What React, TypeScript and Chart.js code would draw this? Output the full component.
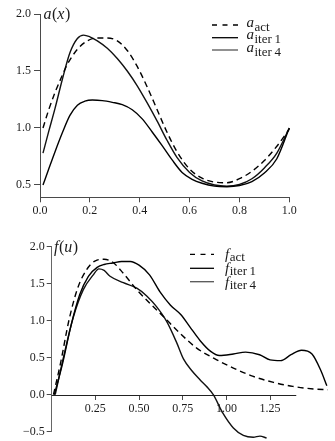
import React, { useEffect, useRef } from 'react';
import { Chart, registerables } from 'chart.js';

Chart.register(...registerables);

// ---------- Top panel: a(x) ----------
const aActX = [0.012, 0.035, 0.06, 0.085, 0.11, 0.15, 0.19, 0.23, 0.27, 0.31, 0.35, 0.39, 0.43, 0.47, 0.51, 0.55, 0.6, 0.65, 0.7, 0.75, 0.8, 0.85, 0.9, 0.95, 1.0];
const aActY = [1.0, 1.16, 1.31, 1.44, 1.56, 1.69, 1.765, 1.79, 1.79, 1.765, 1.68, 1.54, 1.36, 1.16, 0.96, 0.79, 0.64, 0.56, 0.525, 0.52, 0.555, 0.62, 0.715, 0.84, 0.99];

const aIter4X = [0.012, 0.035, 0.06, 0.09, 0.12, 0.15, 0.175, 0.2, 0.23, 0.27, 0.31, 0.35, 0.39, 0.43, 0.47, 0.51, 0.55, 0.6, 0.65, 0.7, 0.75, 0.8, 0.85, 0.9, 0.95, 1.0];
const aIter4Y = [0.78, 0.97, 1.17, 1.43, 1.66, 1.785, 1.815, 1.8, 1.765, 1.7, 1.61, 1.5, 1.37, 1.22, 1.06, 0.89, 0.74, 0.61, 0.535, 0.5, 0.49, 0.505, 0.555, 0.65, 0.78, 1.0];

const aIter1X = [0.012, 0.035, 0.06, 0.09, 0.12, 0.15, 0.18, 0.21, 0.25, 0.29, 0.33, 0.37, 0.41, 0.45, 0.49, 0.53, 0.57, 0.61, 0.65, 0.7, 0.75, 0.8, 0.85, 0.9, 0.95, 1.0];
const aIter1Y = [0.5, 0.64, 0.79, 0.96, 1.11, 1.2, 1.235, 1.245, 1.24, 1.225, 1.205, 1.16, 1.08, 0.965, 0.845, 0.72, 0.61, 0.55, 0.515, 0.49, 0.485, 0.495, 0.53, 0.605, 0.73, 1.0];

const topXTicks = [0, 0.2, 0.4, 0.6, 0.8, 1.0];
const topYTicks = [0.5, 1.0, 1.5, 2.0];
const topTitle: [string, boolean][] = [['a', true], ['(', false], ['x', true], [')', false]];
const topLegendMain = 'a';
const topLegendSubs = ['act', 'iter\u20091', 'iter\u20094'];

// ---------- Bottom panel: f(u) ----------
const fActX = [0.01, 0.05, 0.1, 0.15, 0.2, 0.25, 0.3, 0.35, 0.41, 0.49, 0.56, 0.64, 0.73, 0.83, 0.93, 1.04, 1.15, 1.27, 1.38, 1.5, 1.58];
const fActY = [0.0, 0.42, 1.02, 1.45, 1.69, 1.81, 1.83, 1.79, 1.64, 1.41, 1.24, 1.055, 0.84, 0.63, 0.49, 0.36, 0.25, 0.166, 0.112, 0.077, 0.067];

const fIter1X = [0.015, 0.06, 0.11, 0.16, 0.21, 0.26, 0.3, 0.35, 0.4, 0.45, 0.5, 0.56, 0.62, 0.68, 0.74, 0.79, 0.85, 0.91, 0.96, 1.04, 1.11, 1.19, 1.25, 1.31, 1.37, 1.43, 1.49, 1.54, 1.575];
const fIter1Y = [0.0, 0.4, 0.93, 1.35, 1.6, 1.72, 1.76, 1.78, 1.8, 1.8, 1.75, 1.62, 1.39, 1.21, 1.08, 0.92, 0.73, 0.585, 0.53, 0.55, 0.575, 0.54, 0.47, 0.46, 0.54, 0.6, 0.55, 0.33, 0.12];

const fIter4X = [0.02, 0.067, 0.124, 0.181, 0.238, 0.27, 0.3, 0.334, 0.41, 0.487, 0.544, 0.6, 0.658, 0.716, 0.755, 0.8, 0.85, 0.887, 0.925, 0.98, 1.04, 1.097, 1.154, 1.192, 1.23];
const fIter4Y = [0.0, 0.5, 1.05, 1.42, 1.62, 1.7, 1.68, 1.6, 1.515, 1.44, 1.335, 1.19, 0.99, 0.7, 0.48, 0.33, 0.2, 0.11, 0.0, -0.25, -0.45, -0.55, -0.575, -0.56, -0.585];

const botXTicks = [0.25, 0.5, 0.75, 1.0, 1.25];
const botYTicks = [-0.5, 0, 0.5, 1.0, 1.5, 2.0];
const botXAxisStart = 0;
const botXAxisEnd = 1.4;
const botTitle: [string, boolean][] = [['f', true], ['(', false], ['u', true], [')', false]];
const botLegendMain = 'f';
const botLegendSubs = ['act', 'iter\u20091', 'iter\u20094'];

// ---------- styling ----------
const SERIF = '"Liberation Serif", "Times New Roman", serif';
const INK = '#1c1c1c';
const AXIS = '#4a4a4a';
const C_ACT = '#000000';
const C_IT1 = '#000000';
const C_IT4 = '#111111';
const DASH_PLOT = [6, 4];
const DASH_LEG = [5, 5.5];

const toPts = (xs: number[], ys: number[]) => xs.map((x, i) => ({ x, y: ys[i] }));

const lineDs = (label: string, xs: number[], ys: number[], color: string, dash: number[] | null) => ({
  label,
  data: toPts(xs, ys),
  borderColor: color,
  backgroundColor: color,
  borderWidth: 1.4,
  borderDash: dash || [],
  pointRadius: 0,
  pointHoverRadius: 0,
  fill: false,
  cubicInterpolationMode: 'monotone',
  clip: false,
});

type OverlayCfg = {
  title: [string, boolean][];
  titleX: number;
  titleY: number;
  main: string;
  subs: string[];
  colors: string[];
  dashed: boolean[];
  lineX0: number;
  lineX1: number;
  rowsY: number[];
  textX: number;
  mainDy: number;
  subDy: number;
  zeroAxis?: { from: number; to: number; color: string };
};

const makeOverlay = (cfg: OverlayCfg) => ({
  id: 'overlay',
  beforeDatasetsDraw(chart: any) {
    if (!cfg.zeroAxis) return;
    const ctx = chart.ctx as CanvasRenderingContext2D;
    const xs = chart.scales.x;
    const ys = chart.scales.y;
    const y0 = Math.round(ys.getPixelForValue(0)) + 0.5;
    ctx.save();
    ctx.strokeStyle = cfg.zeroAxis.color;
    ctx.lineWidth = 1;
    ctx.beginPath();
    ctx.moveTo(xs.getPixelForValue(cfg.zeroAxis.from), y0);
    ctx.lineTo(xs.getPixelForValue(cfg.zeroAxis.to), y0);
    ctx.stroke();
    ctx.restore();
  },
  afterDraw(chart: any) {
    const ctx = chart.ctx as CanvasRenderingContext2D;
    ctx.save();
    ctx.fillStyle = INK;
    ctx.textAlign = 'left';
    ctx.textBaseline = 'alphabetic';
    let x = cfg.titleX;
    for (const [t, it] of cfg.title) {
      ctx.font = `${it ? 'italic ' : ''}16px ${SERIF}`;
      ctx.fillText(t, x, cfg.titleY);
      x += ctx.measureText(t).width + (it ? 0.5 : 0);
    }
    cfg.subs.forEach((sub, i) => {
      const y = cfg.rowsY[i];
      ctx.strokeStyle = cfg.colors[i];
      ctx.lineWidth = 1.3;
      ctx.setLineDash(cfg.dashed[i] ? DASH_LEG : []);
      ctx.beginPath();
      ctx.moveTo(cfg.lineX0, y);
      ctx.lineTo(cfg.lineX1, y);
      ctx.stroke();
      ctx.setLineDash([]);
      ctx.font = `italic 15px ${SERIF}`;
      ctx.fillText(cfg.main, cfg.textX, y + cfg.mainDy);
      const w = ctx.measureText(cfg.main).width;
      ctx.font = `13px ${SERIF}`;
      ctx.fillText(sub, cfg.textX + w + 0.5, y + cfg.subDy);
    });
    ctx.restore();
  },
});

const axisCommon = (tickLen: number, pad: number) => ({
  grid: { display: true, drawOnChartArea: false, drawTicks: true, tickLength: tickLen, tickColor: AXIS, tickWidth: 1 },
  border: { display: true, color: AXIS, width: 1 },
  ticks: { font: { family: SERIF, size: 12 }, color: INK, padding: pad, maxRotation: 0, autoSkip: false },
});

const fmtSigned = (v: number, d: number) => (v < 0 ? '\u2212' : '') + Math.abs(v).toFixed(d);

function useChart(ref: React.RefObject<HTMLCanvasElement>, build: () => any) {
  useEffect(() => {
    if (!ref.current) return;
    const chart = new Chart(ref.current, build());
    return () => chart.destroy();
  }, []);
}

export default function App() {
  const topRef = useRef<HTMLCanvasElement>(null);
  const botRef = useRef<HTMLCanvasElement>(null);

  useChart(topRef, () => {
    const xc = axisCommon(5, 1);
    const yc = axisCommon(6, 3);
    return {
      type: 'line',
      data: {
        datasets: [
          lineDs('a_act', aActX, aActY, C_ACT, DASH_PLOT),
          lineDs('a_iter1', aIter1X, aIter1Y, C_IT1, null),
          lineDs('a_iter4', aIter4X, aIter4Y, C_IT4, null),
        ],
      },
      options: {
        animation: false,
        responsive: false,
        maintainAspectRatio: false,
        layout: { padding: { top: 14, right: 45.7, left: 0, bottom: 0 } },
        plugins: { legend: { display: false }, tooltip: { enabled: false }, title: { display: false } },
        scales: {
          x: {
            type: 'linear',
            min: 0,
            max: 1,
            position: 'bottom',
            afterBuildTicks: (s: any) => { s.ticks = topXTicks.map((v) => ({ value: v })); },
            afterFit: (s: any) => { s.height = 22.7; },
            grid: xc.grid,
            border: xc.border,
            ticks: { ...xc.ticks, callback: (v: number) => v.toFixed(1) },
          },
          y: {
            type: 'linear',
            min: 0.392,
            max: 2.0,
            position: 'left',
            afterBuildTicks: (s: any) => { s.ticks = topYTicks.map((v) => ({ value: v })); },
            afterFit: (s: any) => { s.width = 40; },
            grid: yc.grid,
            border: yc.border,
            ticks: { ...yc.ticks, callback: (v: number) => v.toFixed(1) },
          },
        },
      },
      plugins: [
        makeOverlay({
          title: topTitle,
          titleX: 43.5,
          titleY: 18.5,
          main: topLegendMain,
          subs: topLegendSubs,
          colors: [C_ACT, C_IT1, '#555555'],
          dashed: [true, false, false],
          lineX0: 212,
          lineX1: 238,
          rowsY: [25, 37.7, 50],
          textX: 246.5,
          mainDy: 1.5,
          subDy: 5.7,
        }),
      ],
    };
  });

  useChart(botRef, () => {
    const xc = axisCommon(5, 2);
    const yc = axisCommon(5, 2);
    return {
      type: 'line',
      data: {
        datasets: [
          lineDs('f_act', fActX, fActY, C_ACT, DASH_PLOT),
          lineDs('f_iter1', fIter1X, fIter1Y, C_IT1, null),
          lineDs('f_iter4', fIter4X, fIter4Y, C_IT4, null),
        ],
      },
      options: {
        animation: false,
        responsive: false,
        maintainAspectRatio: false,
        layout: { padding: { top: 26.7, right: 3.8, left: 0, bottom: 9.3 } },
        plugins: { legend: { display: false }, tooltip: { enabled: false }, title: { display: false } },
        scales: {
          x: {
            type: 'linear',
            min: 0,
            max: 1.6,
            position: { y: 0 },
            afterBuildTicks: (s: any) => { s.ticks = botXTicks.map((v) => ({ value: v })); },
            grid: xc.grid,
            border: { display: false },
            ticks: { ...xc.ticks, callback: (v: number) => v.toFixed(2) },
          },
          y: {
            type: 'linear',
            min: -0.5,
            max: 2.0,
            position: 'left',
            afterBuildTicks: (s: any) => { s.ticks = botYTicks.map((v) => ({ value: v })); },
            afterFit: (s: any) => { s.width = 51.7; },
            grid: yc.grid,
            border: { display: true, color: '#666666', width: 1 },
            ticks: { ...yc.ticks, callback: (v: number) => fmtSigned(v, 1) },
          },
        },
      },
      plugins: [
        makeOverlay({
          title: botTitle,
          titleX: 54,
          titleY: 32,
          main: botLegendMain,
          subs: botLegendSubs,
          colors: [C_ACT, C_IT1, '#555555'],
          dashed: [true, false, false],
          lineX0: 190,
          lineX1: 214,
          rowsY: [34.3, 48.3, 61.7],
          textX: 225,
          mainDy: 5,
          subDy: 6.8,
          zeroAxis: { from: botXAxisStart, to: botXAxisEnd, color: '#222222' },
        }),
      ],
    };
  });

  return (
    <div style={{ position: 'absolute', left: 0, top: 0, width: 335, height: 441, background: '#ffffff' }}>
      <canvas ref={topRef} width={335} height={220} style={{ position: 'absolute', left: 0, top: 0, width: 335, height: 220 }} />
      <canvas ref={botRef} width={335} height={221} style={{ position: 'absolute', left: 0, top: 220, width: 335, height: 221 }} />
    </div>
  );
}
